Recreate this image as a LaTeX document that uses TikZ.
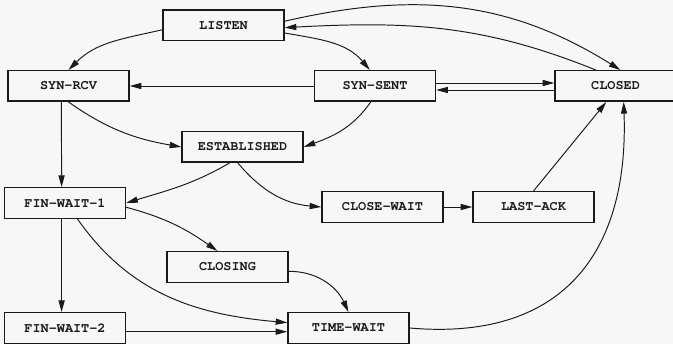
\documentclass[tikz,border=0pt]{standalone}
\usepackage[T1,TU]{fontenc}
\usetikzlibrary{arrows.meta}
\definecolor{paper}{HTML}{F7F7F7}
\definecolor{ink}{HTML}{1A1A1A}
\newcommand{\statefont}{\fontencoding{T1}\fontfamily{pcr}\fontseries{b}\fontsize{7.7}{9}\selectfont}
\begin{document}
\begin{tikzpicture}[>={Triangle[length=6.6pt,width=3.5pt]},
		line width=0.55pt,draw=ink,
		state/.style = {rectangle,draw=ink,line width=0.85pt,fill=paper,inner sep=0pt,
			minimum width=2.42cm,minimum height=0.61cm,text=ink,font=\statefont}]
		
		\path[use as bounding box,fill=paper] (0,0) rectangle (13.46,-6.88);
		
		\node[state] at (4.47,-0.51) (listen) {LISTEN};
		\node[state] at (1.37,-1.72) (synrcv) {SYN-RCV};
		\node[state] at (7.50,-1.72) (synsent) {SYN-SENT};
		\node[state] at (12.31,-1.72) (closed) {CLOSED};
		\node[state] at (4.85,-2.94) (estab) {ESTABLISHED};
		\node[state] at (1.30,-4.06) (finwait1) {FIN-WAIT-1};
		\node[state] at (7.65,-4.14) (closewait) {CLOSE-WAIT};
		\node[state] at (10.67,-4.14) (lastack) {LAST-ACK};
		\node[state] at (4.55,-5.34) (closing) {CLOSING};
		\node[state] at (1.30,-6.56) (finwait2) {FIN-WAIT-2};
		\node[state] at (6.97,-6.56) (timewait) {TIME-WAIT};
		
		\path[->]
		(listen.4) edge[out=13,in=148] (closed.73)
		(closed.141) edge[out=158,in=3] (listen.-2)
		(listen.184) edge[out=193,in=45] (synrcv.north)
		(listen.-7) edge[out=-10,in=130] (synsent.108)
		(synsent.west) edge (synrcv.east)
		([yshift=0.06cm]synsent.east) edge ([yshift=0.06cm]closed.west)
		([yshift=-0.08cm]closed.west) edge ([yshift=-0.08cm]synsent.east)
		(synrcv.south) edge[out=-35,in=170] (estab.west)
		(synsent.255) edge[out=235,in=20] (estab.east)
		(synrcv.246) edge (finwait1.102)
		(estab.231) edge[out=210,in=17] (finwait1.east)
		(estab.254) edge[out=-50,in=175] (closewait.west)
		(closewait.east) edge (lastack.west)
		(lastack.north) edge (closed.240)
		(finwait1.-4) edge[out=-15,in=145] (closing.122)
		(finwait1.258) edge (finwait2.102)
		(finwait1.-52) edge[out=-55,in=175] (timewait.175)
		([yshift=-0.074cm]finwait2.east) edge ([yshift=-0.074cm]timewait.west)
		(closing.-4) edge[out=0,in=115] (timewait.north)
		(timewait.east) edge[out=-5,in=-88,looseness=1.25] (closed.-63);
\end{tikzpicture}
\end{document}
